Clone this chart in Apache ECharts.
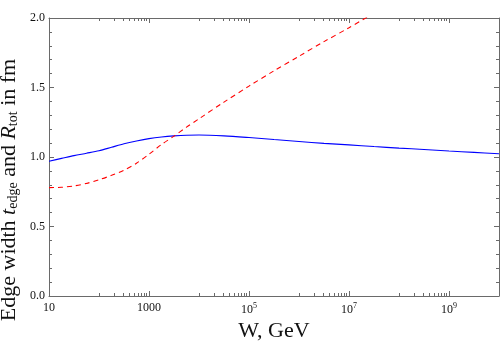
<!DOCTYPE html>
<html><head><meta charset="utf-8">
<script src="https://cdn.jsdelivr.net/npm/echarts@6/dist/echarts.min.js"></script>
<style>html,body{margin:0;padding:0;background:#fff}#c{width:500px;height:343px}</style>
</head><body><div id="c"></div>
<script>
// W in GeV
const W = [10, 17.8, 31.6, 56.2, 100, 178, 316, 562, 1000, 1780, 3160, 5620, 1e4, 3.16e4, 1e5, 3.16e5, 1e6, 3.16e6, 1e7, 3.16e7, 1e8, 3.16e8, 1e9, 3.16e9, 1e10];
// Edge width t_edge (fm) - blue solid
const edgeWidth = [0.970, 0.990, 1.010, 1.027, 1.045, 1.070, 1.095, 1.115, 1.132, 1.144, 1.152, 1.157, 1.158, 1.152, 1.140, 1.126, 1.112, 1.098, 1.087, 1.075, 1.064, 1.054, 1.043, 1.033, 1.023];
// R_tot (fm) - red dashed
const rTot = [0.780, 0.782, 0.792, 0.810, 0.836, 0.868, 0.905, 0.955, 1.020, 1.090, 1.150, 1.215, 1.275, 1.395, 1.510, 1.620, 1.725, 1.830, 1.930, 2.035];
const xMajorTicks = [10, 1000, 1e5, 1e7, 1e9];
const xMinorTicks = [100, 200, 300, 400, 500, 600, 700, 800, 900,
  1e4, 2e4, 3e4, 4e4, 5e4, 6e4, 7e4, 8e4, 9e4,
  1e6, 2e6, 3e6, 4e6, 5e6, 6e6, 7e6, 8e6, 9e6,
  1e8, 2e8, 3e8, 4e8, 5e8, 6e8, 7e8, 8e8, 9e8];
const yMin = 0, yMax = 2, yStep = 0.5;

const serif = '"Liberation Serif", "Times New Roman", serif';
const frameColor = '#6a6a6a';
const chart = echarts.init(document.getElementById('c'), null, {renderer: 'canvas'});

function xLabel(v) {
  const e = Math.round(Math.log10(v));
  if (e <= 3) return String(Math.round(v));
  return '10{sup|' + e + '}';
}

function xAxisDef(pos, ticks, len, withLabel, withLine) {
  return {
    type: 'log', logBase: 10, min: 10, max: 1e10, position: pos,
    axisLine: {show: withLine, onZero: false, lineStyle: {color: frameColor, width: 1}},
    axisTick: {show: true, inside: true, length: len, customValues: ticks, lineStyle: {color: frameColor, width: 1}},
    minorTick: {show: false},
    splitLine: {show: false},
    axisLabel: withLabel ? {
      show: true, customValues: ticks, formatter: xLabel, margin: 6,
      color: '#111', fontFamily: serif, fontSize: 12,
      rich: {sup: {fontFamily: serif, fontSize: 8, color: '#111', padding: [0, 0, 7, 0], verticalAlign: 'bottom'}}
    } : {show: false},
    name: withLabel ? 'W, GeV' : '',
    nameLocation: 'middle', nameGap: 20,
    nameTextStyle: {fontFamily: serif, fontSize: 22, color: '#111'}
  };
}

function yAxisDef(pos, withLabel) {
  return {
    type: 'value', min: yMin, max: yMax, interval: yStep, position: pos,
    axisLine: {show: true, onZero: false, lineStyle: {color: frameColor, width: 1}},
    axisTick: {show: true, inside: true, length: 5, lineStyle: {color: frameColor, width: 1}},
    minorTick: {show: true, splitNumber: 5, length: 3, lineStyle: {color: frameColor, width: 1}},
    splitLine: {show: false}, minorSplitLine: {show: false},
    axisLabel: withLabel ? {show: true, margin: 4, formatter: v => v.toFixed(1), color: '#111', fontFamily: serif, fontSize: 12} : {show: false}
  };
}

const option = {
  animation: false,
  backgroundColor: '#fff',
  grid: {left: 49, right: 1, top: 18, bottom: 47, containLabel: false, outerBoundsMode: 'none'},
  xAxis: [
    xAxisDef('bottom', xMajorTicks, 5, true, true),
    xAxisDef('bottom', xMinorTicks, 3, false, false),
    xAxisDef('top', xMajorTicks, 5, false, true),
    xAxisDef('top', xMinorTicks, 3, false, false)
  ],
  yAxis: [yAxisDef('left', true), yAxisDef('right', false)],
  graphic: [{
    type: 'text', x: 9, y: 190, rotation: Math.PI / 2,
    style: {
      text: 'Edge width {i|t}{sub|edge} and {i|R}{sub|tot} in fm',
      fontFamily: serif, fontSize: 22, fill: '#111', align: 'center', verticalAlign: 'middle',
      rich: {
        i: {fontFamily: serif, fontSize: 22, fontStyle: 'italic', fill: '#111'},
        sub: {fontFamily: serif, fontSize: 14, fill: '#111', padding: [8, 0, 0, 0], verticalAlign: 'top'}
      }
    }
  }],
  series: [
    {
      type: 'line', xAxisIndex: 0, yAxisIndex: 0, smooth: 0.3, symbol: 'none', clip: true,
      data: W.map((w, i) => [w, edgeWidth[i]]),
      lineStyle: {color: '#0000ff', width: 1.1}
    },
    {
      type: 'line', xAxisIndex: 0, yAxisIndex: 0, smooth: 0.3, symbol: 'none', clip: true,
      data: rTot.map((r, i) => [W[i], r]),
      lineStyle: {color: '#ff0000', width: 1.1, type: [5, 4]}
    }
  ]
};
chart.setOption(option);
</script>
</body></html>
